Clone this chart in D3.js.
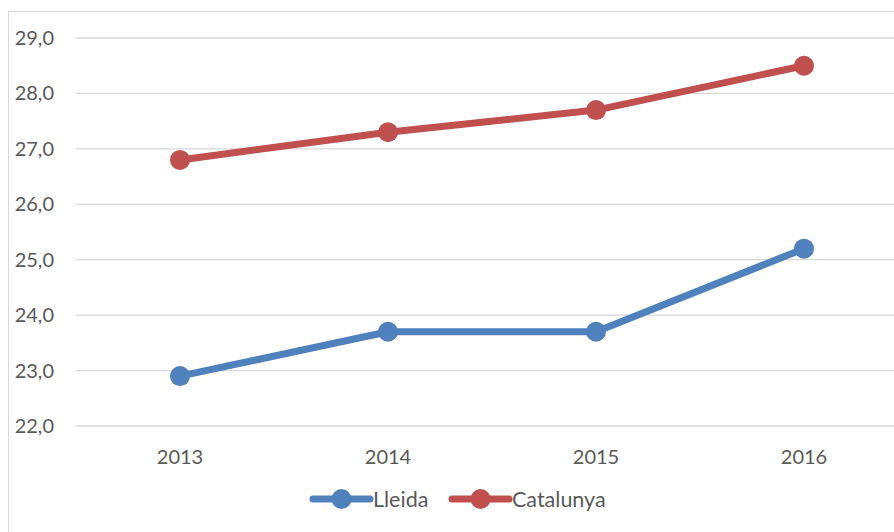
<!DOCTYPE html>
<html>
<head>
<meta charset="utf-8">
<script src="https://cdn.jsdelivr.net/npm/d3@7"></script>
<style>
  body { margin: 0; background: #fff; }
  svg text { font-family: Lato, "Open Sans", sans-serif; fill: #595959; }
</style>
</head>
<body>
<div id="chart"></div>
<script>
const years = ['2013', '2014', '2015', '2016'];
const lleida = [22.9, 23.7, 23.7, 25.2];
const catalunya = [26.8, 27.3, 27.7, 28.5];
const yTicks = [22, 23, 24, 25, 26, 27, 28, 29];

const series = [
    { name: 'Lleida', values: lleida, color: '#4f81bd' },
    { name: 'Catalunya', values: catalunya, color: '#c0504d' }
];

const W = 894, H = 532;
const svg = d3.select('#chart').append('svg')
    .attr('width', W).attr('height', H);

// outer chart border (cropped on right/bottom)
svg.append('rect')
    .attr('x', 8.5).attr('y', 11.5)
    .attr('width', 1000).attr('height', 1000)
    .attr('fill', 'none')
    .attr('stroke', '#d9d9d9')
    .attr('stroke-width', 1);

const x = d3.scalePoint()
    .domain(years)
    .range([180, 804]);

const y = d3.scaleLinear()
    .domain([22, 29])
    .range([426, 38]);

// gridlines
svg.append('g')
    .selectAll('line')
    .data(yTicks)
    .enter().append('line')
    .attr('x1', 76).attr('x2', 910)
    .attr('y1', d => y(d)).attr('y2', d => y(d))
    .attr('stroke', '#d9d9d9')
    .attr('stroke-width', 1.3);

// y labels
svg.append('g')
    .selectAll('text')
    .data(yTicks)
    .enter().append('text')
    .attr('x', 54)
    .attr('y', d => y(d))
    .attr('dy', '0.35em')
    .attr('text-anchor', 'end')
    .style('font-size', '20px')
    .text(d => d3.format('.1f')(d).replace('.', ','));

// x labels
svg.append('g')
    .selectAll('text')
    .data(years)
    .enter().append('text')
    .attr('x', d => x(d))
    .attr('y', 457)
    .attr('dy', '0.35em')
    .attr('text-anchor', 'middle')
    .style('font-size', '20px')
    .text(d => d);

const line = d3.line()
    .x((d, i) => x(years[i]))
    .y(d => y(d));

series.forEach(s => {
    svg.append('path')
        .datum(s.values)
        .attr('d', line)
        .attr('fill', 'none')
        .attr('stroke', s.color)
        .attr('stroke-width', 7)
        .attr('stroke-linejoin', 'round')
        .attr('stroke-linecap', 'round');

    svg.append('g')
        .selectAll('circle')
        .data(s.values)
        .enter().append('circle')
        .attr('cx', (d, i) => x(years[i]))
        .attr('cy', d => y(d))
        .attr('r', 10)
        .attr('fill', s.color);
});

// legend
const legendPos = [313, 452];
series.forEach((s, i) => {
    const g = svg.append('g')
        .attr('transform', `translate(${legendPos[i]},499)`);
    g.append('line')
        .attr('x1', 0).attr('x2', 57)
        .attr('stroke', s.color)
        .attr('stroke-width', 7)
        .attr('stroke-linecap', 'round');
    g.append('circle')
        .attr('cx', 28.5).attr('r', 10)
        .attr('fill', s.color);
    g.append('text')
        .attr('x', 60)
        .attr('dy', '0.35em')
        .style('font-size', '21.5px')
        .text(s.name);
});
</script>
</body>
</html>
